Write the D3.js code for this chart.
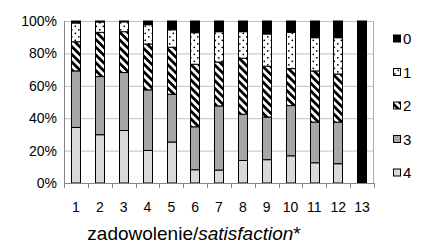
<html>
<head>
<script src="https://cdn.jsdelivr.net/npm/d3@7"></script>
<style>
  body { margin: 0; background: #fff; }
  text { font-family: "Liberation Sans", Arial, sans-serif; }
</style>
</head>
<body>
<script>
// share of answers (%) for each rating, per item 1..13
let items = ["1","2","3","4","5","6","7","8","9","10","11","12","13"]
let r4 = [34.3, 29.8, 32.4, 20.1, 25.3, 8.2, 8.0, 13.9, 14.4, 16.8, 12.5, 11.9, 0]
let r3 = [34.9, 35.9, 35.8, 37.4, 29.5, 26.5, 39.6, 28.6, 26.3, 31.0, 25.1, 25.7, 0]
let r2 = [18.0, 27.3, 25.2, 28.3, 29.0, 38.6, 27.1, 34.5, 31.4, 22.8, 31.6, 29.7, 0]
let r1 = [11.6, 6.4, 6.1, 11.9, 10.8, 19.5, 18.7, 16.4, 19.9, 22.4, 20.5, 22.4, 0]
let r0 = [1.2, 0.6, 0.5, 2.3, 5.4, 7.2, 6.6, 6.6, 8.0, 7.0, 10.3, 10.3, 100]
let keys = ["4","3","2","1","0"]
let legendKeys = ["0","1","2","3","4"]
let yTicks = [0, 20, 40, 60, 80, 100]

let w = 421
let h = 245
let pLeft = 64, pRight = 374, pTop = 21, pBottom = 183

let svg = d3.select("body")
            .append("svg")
            .attr("width", w)
            .attr("height", h)

let defs = svg.append("defs")
let stripes = defs.append("pattern")
    .attr("id", "stripes")
    .attr("patternUnits", "userSpaceOnUse")
    .attr("width", 5.5).attr("height", 5.5)
    .attr("patternTransform", "rotate(-45)")
stripes.append("rect").attr("width", 5.5).attr("height", 5.5).attr("fill", "#fff")
stripes.append("rect").attr("width", 2.8).attr("height", 5.5).attr("fill", "#000")

let dots = defs.append("pattern")
    .attr("id", "dots")
    .attr("patternUnits", "userSpaceOnUse")
    .attr("width", 7).attr("height", 7)
dots.append("rect").attr("width", 7).attr("height", 7).attr("fill", "#fff")
dots.append("circle").attr("cx", 1.8).attr("cy", 1.8).attr("r", 0.9).attr("fill", "#000")
dots.append("circle").attr("cx", 5.3).attr("cy", 5.3).attr("r", 0.9).attr("fill", "#000")

let fills = {"4": "#d9d9d9", "3": "#a6a6a6", "2": "url(#stripes)", "1": "url(#dots)", "0": "#000"}

let data = items.map((d, i) => {
    return {item: d, "4": r4[i], "3": r3[i], "2": r2[i], "1": r1[i], "0": r0[i]}
})

let x_scale = d3.scaleBand()
                .domain(items)
                .range([pLeft, pRight])
                .paddingInner(0.6)
                .paddingOuter(0.3)
let y_scale = d3.scaleLinear()
                .domain([0, 100])
                .range([pBottom, pTop])

// grid
svg.selectAll(".grid")
   .data(yTicks.filter(t => t > 0))
   .enter()
   .append("line")
   .attr("x1", pLeft).attr("x2", pRight)
   .attr("y1", d => y_scale(d) + 0.5).attr("y2", d => y_scale(d) + 0.5)
   .attr("stroke", "#c0c0c0")

// side borders
svg.append("line").attr("x1", pLeft + 0.5).attr("x2", pLeft + 0.5)
   .attr("y1", pTop).attr("y2", pBottom).attr("stroke", "#868686")
svg.append("line").attr("x1", pRight - 0.5).attr("x2", pRight - 0.5)
   .attr("y1", pTop).attr("y2", pBottom).attr("stroke", "#b0b0b0")

let stacked = d3.stack().keys(keys)(data)

svg.selectAll(".series")
   .data(stacked)
   .enter()
   .append("g")
   .attr("fill", d => fills[d.key])
   .selectAll("rect")
   .data(d => d)
   .enter()
   .append("rect")
   .filter(d => d[1] - d[0] > 0)
   .attr("x", d => Math.round(x_scale(d.data.item)) + 0.5)
   .attr("width", Math.round(x_scale.bandwidth()) - 1)
   .attr("y", d => y_scale(d[1]))
   .attr("height", d => y_scale(d[0]) - y_scale(d[1]))
   .attr("stroke", "#000")
   .attr("stroke-width", 1)

// x axis
let x_axis = d3.axisBottom(x_scale).tickSize(0).tickPadding(19)
let xg = svg.append("g")
   .attr("transform", "translate(0," + pBottom + ")")
   .call(x_axis)
xg.select(".domain").attr("stroke", "#868686")
xg.selectAll("text").attr("font-size", 14).attr("fill", "#000")
   .style("font-family", "Liberation Sans, Arial, sans-serif")

let step = x_scale.step()
let bounds = d3.range(items.length + 1).map(k => pLeft + k * step)
svg.selectAll(".xtick")
   .data(bounds)
   .enter()
   .append("line")
   .attr("x1", d => Math.round(d) + 0.5).attr("x2", d => Math.round(d) + 0.5)
   .attr("y1", pBottom).attr("y2", pBottom + 5)
   .attr("stroke", "#868686")

// y axis labels
let y_axis = d3.axisLeft(y_scale).tickValues(yTicks).tickSize(0).tickPadding(7)
               .tickFormat(d => d + "%")
let yg = svg.append("g")
   .attr("transform", "translate(" + pLeft + ",0)")
   .call(y_axis)
yg.select(".domain").remove()
yg.selectAll("text").attr("font-size", 14).attr("fill", "#000")
   .style("font-family", "Liberation Sans, Arial, sans-serif")

// x title
let title = svg.append("text")
   .attr("x", 194).attr("y", 240)
   .attr("text-anchor", "middle")
   .attr("font-size", 19)
   .attr("fill", "#000")
title.append("tspan").text("zadowolenie/")
title.append("tspan").attr("font-style", "italic").text("satisfaction")
title.append("tspan").text("*")

// legend
let legend = svg.selectAll(".legend")
   .data(legendKeys)
   .enter()
   .append("g")
   .attr("transform", (d, i) => "translate(393," + (38.5 + i * 33.5) + ")")
legend.append("rect")
   .attr("x", 0.5).attr("y", -3.5)
   .attr("width", 7).attr("height", 7)
   .attr("fill", d => fills[d])
   .attr("stroke", "#000")
legend.append("text")
   .attr("x", 10).attr("y", 5.5)
   .attr("font-size", 15)
   .text(d => d)
</script>
</body>
</html>
